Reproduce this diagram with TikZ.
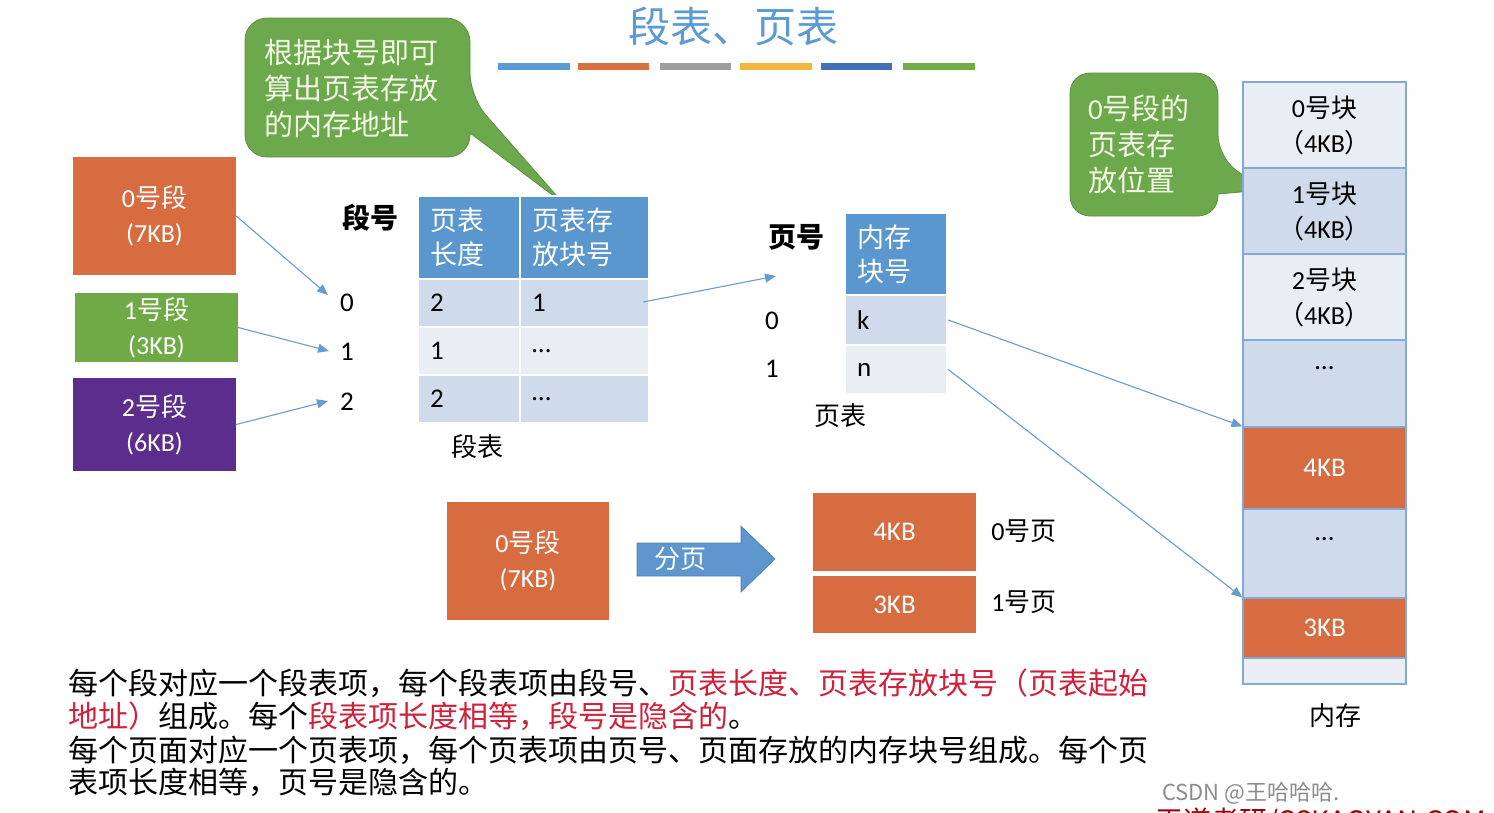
\documentclass[tikz,border=0pt]{standalone}
\usepackage{fontspec}
\setmainfont{Noto Sans CJK SC}
\newfontfamily\lat{Carlito}
\usetikzlibrary{arrows.meta,calc}
\definecolor{orng}{HTML}{D76C40}
\definecolor{grn}{HTML}{6FAA47}
\definecolor{purp}{HTML}{5B2D8C}
\definecolor{hdr}{HTML}{5B97CF}
\definecolor{rowd}{HTML}{CFDAEA}
\definecolor{rowl}{HTML}{E9EDF4}
\definecolor{arr}{HTML}{6A9BD0}
\definecolor{callg}{HTML}{6CA84C}
\definecolor{callb}{HTML}{5E8E40}
\definecolor{calltxt}{HTML}{F3F8E6}
\definecolor{memb}{HTML}{82A9D8}
\definecolor{ttl}{HTML}{5B9BD5}
\definecolor{redt}{HTML}{D0213A}
\definecolor{barA}{HTML}{5B9BD5}
\definecolor{barB}{HTML}{D9703F}
\definecolor{barC}{HTML}{9E9E9E}
\definecolor{barD}{HTML}{F0B63E}
\definecolor{barE}{HTML}{4470B8}
\definecolor{barF}{HTML}{70AD47}
\definecolor{blockarr}{HTML}{5D97CE}
\definecolor{blockb}{HTML}{4A7FB2}
\newcommand\setfs[2]{\fontsize{#1}{#2}\selectfont}
\tikzset{
  lbl/.style={inner sep=0pt, text=black, font=\setfs{26}{32}},
  seg/.style={inner sep=0pt, text=white, align=center, font=\setfs{26}{35}, draw=none},
  cell/.style={draw=white, line width=2.5pt, inner xsep=12pt, inner ysep=0pt, align=left, font=\setfs{27}{34}},
  mem/.style={draw=memb, line width=1.2pt, minimum width=163pt, inner sep=0pt, align=center, font=\setfs{26}{35}},
  link/.style={draw=arr, line width=1.1pt, -{Triangle[length=11pt,width=9pt]}},
  calltext/.style={inner sep=0pt, text=calltxt, align=left, anchor=west},
  body/.style={inner sep=0pt, anchor=west, font=\setfs{30}{34}},
}
\begin{document}
\begin{tikzpicture}[x=1pt,y=-1pt]
\useasboundingbox (0,0) rectangle (1494,812);
\fill[white] (0,0) rectangle (1494,812);

% title and colour bars
\node[inner sep=0pt, text=ttl, font=\setfs{42}{46}] (title) at (733,26) {段表、页表};
\fill[barA] (498,63) rectangle (570,70);
\fill[barB] (578,63) rectangle (649,70);
\fill[barC] (660,63) rectangle (731,70);
\fill[barD] (740,63) rectangle (812,70);
\fill[barE] (821,63) rectangle (892,70);
\fill[barF] (903,63) rectangle (975,70);

% callout 1
\filldraw[fill=callg, draw=callb, line width=0.8pt]
  (350,18) [rounded corners=24pt] -- (470,18) -- (470,97) [sharp corners] -- (563,203) -- (470,133)
  [rounded corners=22pt] -- (470,157) -- (245,157) -- (245,18) -- cycle;
\node[calltext, font=\setfs{29}{36}] (c1) at (264,89) {根据块号即可\\算出页表存放\\的内存地址};

% callout 2
\filldraw[fill=callg, draw=callb, line width=0.8pt]
  (1144,73) [rounded corners=22pt] -- (1218,73) -- (1218,157) [sharp corners] -- (1263,190) -- (1218,194)
  [rounded corners=20pt] -- (1218,216) -- (1070,216) -- (1070,73) -- cycle;
\node[calltext, font=\setfs{29}{36}] (c2) at (1088,144) {{\lat 0}号段的\\页表存\\放位置};

% left segments
\node[seg, fill=orng, minimum width=163pt, minimum height=118pt] (s0) at (154.5,216) {{\lat 0}号段\\{\lat (7KB)}};
\node[seg, fill=grn, minimum width=163pt, minimum height=69pt] (s1) at (156.5,327.5) {{\lat 1}号段\\{\lat (3KB)}};
\node[seg, fill=purp, minimum width=163pt, minimum height=93pt] (s2) at (154.5,424.5) {{\lat 2}号段\\{\lat (6KB)}};

% segment number labels
\node[lbl, font=\setfs{28}{32}\bfseries] (dh) at (370,218) {段号};
\node[lbl, font=\lat\setfs{27}{32}] (n0) at (347,303) {0};
\node[lbl, font=\lat\setfs{27}{32}] (n1) at (347,352) {1};
\node[lbl, font=\lat\setfs{27}{32}] (n2) at (347,402) {2};
\coordinate (a0) at (328,295);
\coordinate (a1) at (329,351);
\coordinate (a2) at (328,401);
\draw[link] (s0.east) -- (a0);
\draw[link] (s1.east) -- (a1);
\draw[link] (s2.east) -- (a2);

% segment table
\node[cell, fill=hdr, text=white, minimum width=102pt, minimum height=83pt, text width=78pt] (th1) at (469,237.5) {页表\\长度};
\node[cell, fill=hdr, text=white, minimum width=129pt, minimum height=83pt, text width=105pt] (th2) at (584.5,237.5) {页表存\\放块号};
\node[cell, fill=rowd, minimum width=102pt, minimum height=48pt, text width=78pt, font=\lat\setfs{27}{32}] (t01) at (469,303) {2};
\node[cell, fill=rowd, minimum width=129pt, minimum height=48pt, text width=105pt, font=\lat\setfs{27}{32}] (t02) at (584.5,303) {1};
\node[cell, fill=rowl, minimum width=102pt, minimum height=48pt, text width=78pt, font=\lat\setfs{27}{32}] (t11) at (469,351) {1};
\node[cell, fill=rowl, minimum width=129pt, minimum height=48pt, text width=105pt, font=\lat\setfs{27}{32}] (t12) at (584.5,351) {\ldots};
\node[cell, fill=rowd, minimum width=102pt, minimum height=48pt, text width=78pt, font=\lat\setfs{27}{32}] (t21) at (469,399) {2};
\node[cell, fill=rowd, minimum width=129pt, minimum height=48pt, text width=105pt, font=\lat\setfs{27}{32}] (t22) at (584.5,399) {\ldots};
\node[lbl] (dbl) at (477,447) {段表};

% page table
\node[lbl, font=\setfs{28}{32}\bfseries] (yh) at (796,237) {页号};
\node[cell, fill=hdr, text=white, minimum width=102pt, minimum height=82pt, text width=78pt] (ph) at (896,254) {内存\\块号};
\node[cell, fill=rowd, minimum width=102pt, minimum height=50pt, text width=78pt, font=\lat\setfs{27}{32}] (pk) at (896,320) {k};
\node[cell, fill=rowl, minimum width=102pt, minimum height=49pt, text width=78pt, font=\lat\setfs{27}{32}] (pn) at (896,369.5) {n};
\node[lbl, font=\lat\setfs{27}{32}] (pn0) at (772,321) {0};
\node[lbl, font=\lat\setfs{27}{32}] (pn1) at (772,369) {1};
\node[lbl] (ybl) at (840,416) {页表};
\coordinate (pin) at (776,276);
\draw[link] ($(t02.east)+(-7,-1)$) -- (pin);

% memory
\node[mem, fill=rowl, minimum height=86pt] (m0) at (1324.5,125) {{\lat 0}号块\\（{\lat 4KB}）};
\node[mem, fill=rowd, minimum height=86pt] (m1) at (1324.5,211) {{\lat 1}号块\\（{\lat 4KB}）};
\node[mem, fill=rowl, minimum height=86pt] (m2) at (1324.5,297) {{\lat 2}号块\\（{\lat 4KB}）};
\node[mem, fill=rowd, minimum height=87pt] (m3) at (1324.5,383.5) {};
\node[mem, fill=orng, text=white, minimum height=82pt, font=\lat\setfs{27}{32}] (m4) at (1324.5,468) {4KB};
\node[mem, fill=rowd, minimum height=89pt] (m5) at (1324.5,553.5) {};
\node[mem, fill=orng, text=white, minimum height=60pt, font=\lat\setfs{27}{32}] (m6) at (1324.5,628) {3KB};
\node[mem, fill=rowl, minimum height=26pt] (m7) at (1324.5,671) {};
\node[lbl, font=\lat\setfs{27}{32}] (d3) at (1324.5,368) {\ldots};
\node[lbl, font=\lat\setfs{27}{32}] (d5) at (1324.5,539) {\ldots};
\node[lbl] (mlbl) at (1335,716) {内存};
\draw[link] (pk.east) -- (m4.north west);
\draw[link] (pn.east) -- (m6.north west);

% paging illustration
\node[seg, fill=orng, minimum width=162pt, minimum height=118pt] (b0) at (528,561) {{\lat 0}号段\\{\lat (7KB)}};
\filldraw[fill=blockarr, draw=blockb, line width=0.6pt]
  (637,543) -- (741,543) -- (741,526) -- (775,559) -- (741,592) -- (741,576) -- (637,576) -- cycle;
\node[inner sep=0pt, text=white, font=\setfs{26}{30}] (fy) at (680,559) {分页};
\node[seg, fill=orng, minimum width=163pt, minimum height=78pt, font=\lat\setfs{27}{32}] (p0) at (894.5,532) {4KB};
\node[seg, fill=orng, minimum width=163pt, minimum height=57pt, font=\lat\setfs{27}{32}] (p1) at (894.5,604.5) {3KB};
\node[lbl] (p0l) at (1024,531) {{\lat 0}号页};
\node[lbl] (p1l) at (1024,602) {{\lat 1}号页};

% explanatory text
\node[body] (l1) at (68,683) {每个段对应一个段表项，每个段表项由段号、\textcolor{redt}{页表长度、页表存放块号（页表起始}};
\node[body] (l2) at (68,716) {\textcolor{redt}{地址）}组成。每个\textcolor{redt}{段表项长度相等，段号是隐含的}。};
\node[body] (l3) at (68,750) {每个页面对应一个页表项，每个页表项由页号、页面存放的内存块号组成。每个页};
\node[body] (l4) at (68,782) {表项长度相等，页号是隐含的。};

% watermarks
\node[inner sep=0pt, anchor=west, text=black!45, font=\setfs{22}{26}] (wm1) at (1162,793) {CSDN @王哈哈哈.};
\begin{scope}
\clip (0,0) rectangle (1494,812);
\node[inner sep=0pt, anchor=west, text=red!60!black, font=\setfs{28}{32}] (wm2) at (1155,822) {王道考研/CSKAOYAN.COM};
\end{scope}
\end{tikzpicture}
\end{document}
